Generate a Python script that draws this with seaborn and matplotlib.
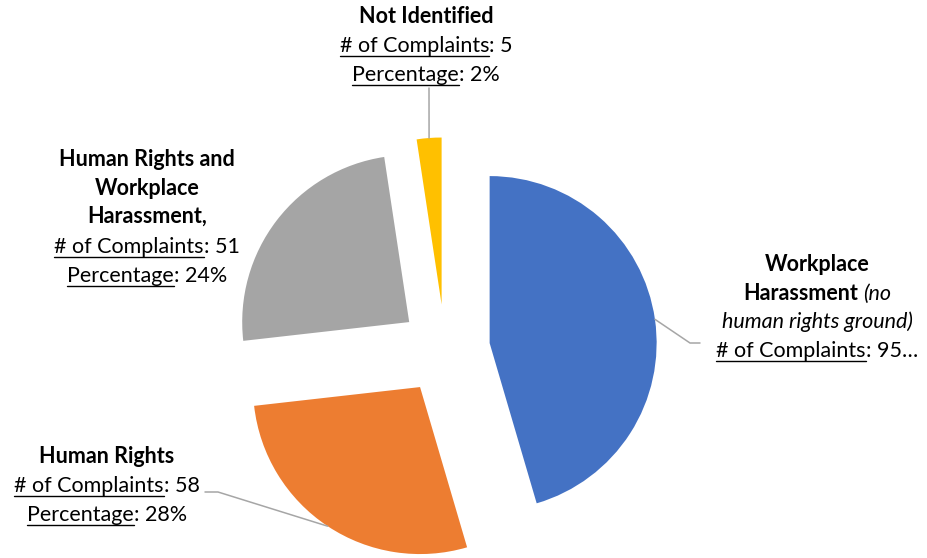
import numpy as np
import matplotlib.pyplot as plt
import seaborn as sns
from matplotlib.lines import Line2D
from matplotlib.transforms import IdentityTransform

# ==============================
# Data
# ==============================
categories = [
    "Workplace Harassment",
    "Human Rights",
    "Human Rights and Workplace Harassment",
    "Not Identified",
]
complaints = [95, 58, 51, 5]
percentages = [45, 28, 24, 2]
colors = ["#4472C4", "#ED7D31", "#A5A5A5", "#FFC000"]

# ==============================
# Style
# ==============================
sns.set_theme(style="white")
plt.rcParams["font.family"] = ["Lato", "DejaVu Sans"]
FS = 15.5

W, H = 927, 558
fig = plt.figure(figsize=(W / 100, H / 100), dpi=100)
ax = fig.add_axes([0, 0, 1, 1])

# pie centre / radius in pixels
pcx, pcy, pr = 445, 349.5, 167
wedges, _ = ax.pie(
    complaints,
    colors=sns.color_palette(colors),
    startangle=90,
    counterclock=False,
    explode=[0.27] * len(complaints),
    wedgeprops=dict(linewidth=0),
)
ax.set_xlim(-pcx / pr, (W - pcx) / pr)
ax.set_ylim(-(H - pcy) / pr, pcy / pr)
ax.set_aspect("auto")
ax.axis("off")

renderer = fig.canvas.get_renderer()
ident = IdentityTransform()


def px(x, y):
    # screen pixel (y down) -> display coords
    return x, H - y


def make_text(s, st):
    return fig.text(
        0, 0, s, transform=ident, fontsize=FS, color="black",
        fontweight="bold" if st == "b" else "normal",
        fontstyle="italic" if st == "i" else "normal",
        va="baseline", ha="left",
    )


def text_w(s, st):
    t = make_text(s, st)
    w = t.get_window_extent(renderer).width
    t.remove()
    return w


def rich_line(cx, base, segs):
    # segments joined with a space unless the next one starts with ':'
    parts = []
    for i, (s, st) in enumerate(segs):
        gap = 0
        if i > 0 and not s.startswith(":"):
            gap = text_w("n n", st) - text_w("nn", st)
        parts.append((s, st, gap, text_w(s, st)))
    total = sum(g + w for _, _, g, w in parts)
    x = cx - total / 2
    for s, st, g, w in parts:
        x += g
        t = make_text(s, st)
        t.set_position(px(x, base))
        if st == "u":
            ux, uy = px(x, base + 4)
            fig.add_artist(Line2D([ux, ux + w], [uy, uy], transform=ident,
                                  color="black", lw=1.0))
        x += w


def counts(i, cut=False):
    tail = f": {complaints[i]}" + ("…" if cut else "")
    return [("# of Complaints", "u"), (tail, "n")]


def pct(i):
    return [("Percentage", "u"), (f": {percentages[i]}%", "n")]


labels = [
    (817, [271, 300, 328, 357], [
        [("Workplace", "b")],
        [("Harassment", "b"), ("(no", "i")],
        [("human rights ground)", "i")],
        counts(0, cut=True),
    ]),
    (107, [463, 492, 521], [
        [("Human Rights", "b")],
        counts(1),
        pct(1),
    ]),
    (147, [166, 195, 223, 253, 282], [
        [("Human Rights and", "b")],
        [("Workplace", "b")],
        [("Harassment,", "b")],
        counts(2),
        pct(2),
    ]),
    (426, [23, 52, 81], [
        [("Not Identified", "b")],
        counts(3),
        pct(3),
    ]),
]

for cx, bases, lines in labels:
    for base, segs in zip(bases, lines):
        rich_line(cx, base, segs)

# ==============================
# Leader lines from slice mid-arc
# ==============================
def arc_mid(w):
    a = np.deg2rad((w.theta1 + w.theta2) / 2)
    p = (w.center[0] + w.r * np.cos(a), w.center[1] + w.r * np.sin(a))
    return ax.transData.transform(p)

elbows = {
    0: [(690, 343), (700, 343)],
    1: [(218, 492), (205, 492)],
    3: [(429, 88)],
}
for i, pts in elbows.items():
    x0, y0 = arc_mid(wedges[i])
    xs = [x0] + [px(*p)[0] for p in pts]
    ys = [y0] + [px(*p)[1] for p in pts]
    fig.add_artist(Line2D(xs, ys, transform=ident, color="#A6A6A6", lw=1.1))

fig.savefig("out.png", dpi=100)
